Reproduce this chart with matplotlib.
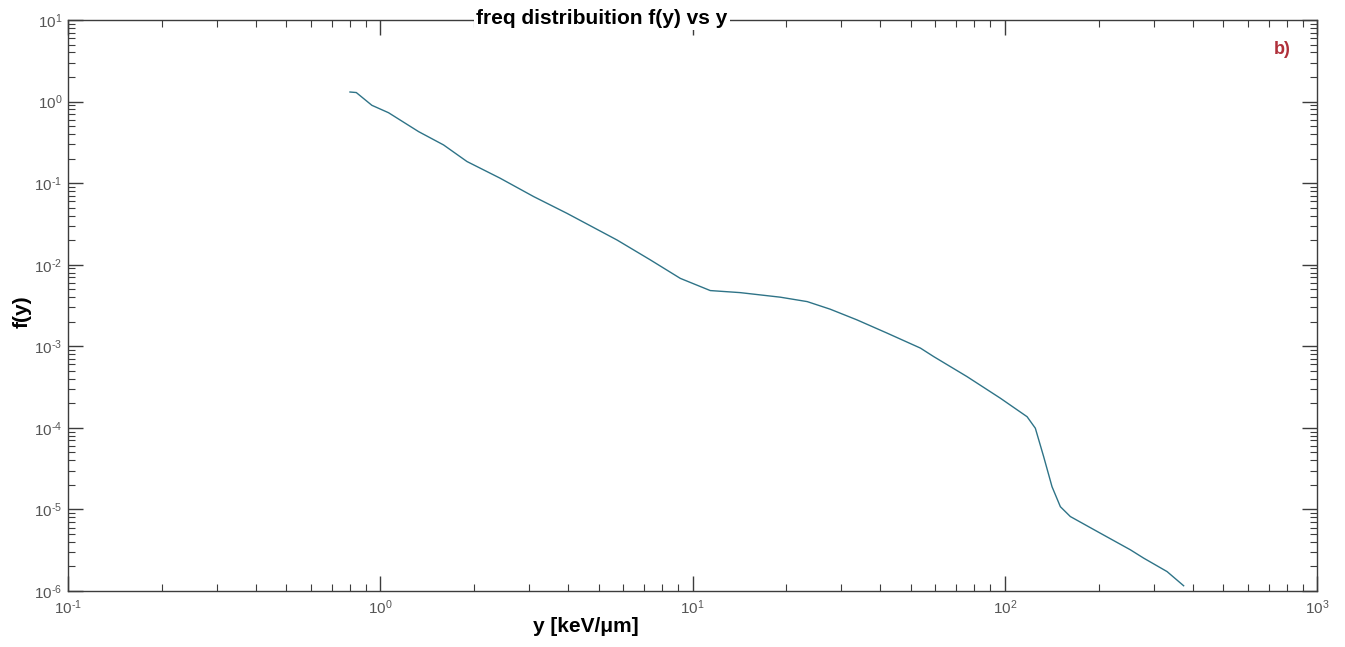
import matplotlib
matplotlib.use("Agg")
import matplotlib.pyplot as plt
from matplotlib.ticker import LogLocator, NullFormatter, FixedLocator, FuncFormatter
import math

plt.rcParams['font.family'] = ['Liberation Sans', 'DejaVu Sans']
plt.rcParams['mathtext.fontset'] = 'custom'
plt.rcParams['mathtext.rm'] = 'Liberation Sans'
plt.rcParams['mathtext.it'] = 'Liberation Sans'
plt.rcParams['axes.unicode_minus'] = False

y_kev = [0.80, 0.838, 0.94, 1.063, 1.327, 1.595, 1.896, 2.42, 3.10, 3.96, 5.73, 7.33,
         9.14, 11.4, 14.2, 19.1, 23.3, 27.6, 33.6, 42.0, 53.7, 59.2, 75.7, 96.8,
         117.9, 125.3, 133.2, 141.7, 150.7, 162.2, 202, 252.5, 278.5, 331, 374]
f_y = [1.31, 1.29, 0.90, 0.73, 0.428, 0.294, 0.184, 0.115, 0.0684, 0.0427, 0.0201, 0.01145,
       0.0068, 0.00482, 0.00455, 0.0040, 0.00353, 0.00285, 0.00211, 0.00145, 9.5e-4, 7.48e-4,
       4.25e-4, 2.31e-4, 1.37e-4, 9.9e-5, 4.45e-5, 1.9e-5, 1.08e-5, 8.18e-6, 5.13e-6,
       3.2e-6, 2.53e-6, 1.73e-6, 1.16e-6]
x_major = [1e-1, 1e0, 1e1, 1e2, 1e3]
y_major = [1e-6, 1e-5, 1e-4, 1e-3, 1e-2, 1e-1, 1e0, 1e1]

title_text = "freq distribuition f(y) vs y"
xlabel_text = "y [keV/\u03bcm]"
ylabel_text = "f(y)"
panel_text = "b)"


def pow_label(v, pos=None):
    e = int(round(math.log10(v)))
    if e < 0:
        return r'$10^{\text{-}%d}$' % (-e)
    return r'$10^{%d}$' % e


W, H = 1345, 647
fig = plt.figure(figsize=(W / 100, H / 100), dpi=100)
ax = fig.add_axes([68 / W, 1 - 591 / H, (1317 - 68) / W, (591 - 20) / H])

ax.plot(y_kev, f_y, color='#2e7387', lw=1.0)
ax.set_xscale('log')
ax.set_yscale('log')
ax.set_xlim(1e-1, 1e3)
ax.set_ylim(1e-6, 1e1)

axis_col = '#3c3c3c'
for s in ax.spines.values():
    s.set_color(axis_col)
    s.set_linewidth(1.0)

ax.xaxis.set_major_locator(FixedLocator(x_major))
ax.yaxis.set_major_locator(FixedLocator(y_major))
ax.xaxis.set_major_formatter(FuncFormatter(pow_label))
ax.yaxis.set_major_formatter(FuncFormatter(pow_label))
ax.xaxis.set_minor_locator(LogLocator(base=10, subs=range(2, 10), numticks=20))
ax.yaxis.set_minor_locator(LogLocator(base=10, subs=range(2, 10), numticks=20))
ax.xaxis.set_minor_formatter(NullFormatter())
ax.yaxis.set_minor_formatter(NullFormatter())

ax.tick_params(which='both', direction='in', top=True, right=True, color=axis_col,
               labelcolor='#555555', labelsize=11)
ax.tick_params(which='major', length=11, width=1.0)
ax.tick_params(which='minor', length=5, width=0.8)
ax.tick_params(axis='x', pad=5)
ax.tick_params(axis='y', pad=4)

fig.text(602 / W, 1 - 18 / H, title_text, ha='center', va='center', fontsize=15,
         fontweight='bold', color='black',
         bbox=dict(facecolor='white', edgecolor='none', pad=1.5))
fig.text(586 / W, 1 - 626 / H, xlabel_text, ha='center', va='center', fontsize=15,
         fontweight='bold', color='black')
fig.text(22 / W, 1 - 312 / H, ylabel_text, ha='center', va='center', fontsize=15,
         fontweight='bold', color='black', rotation=90)
fig.text(1282 / W, 1 - 49 / H, panel_text, ha='center', va='center', fontsize=13,
         fontweight='bold', color='#b0303a')

fig.savefig('out.png', dpi=100, facecolor='white')
